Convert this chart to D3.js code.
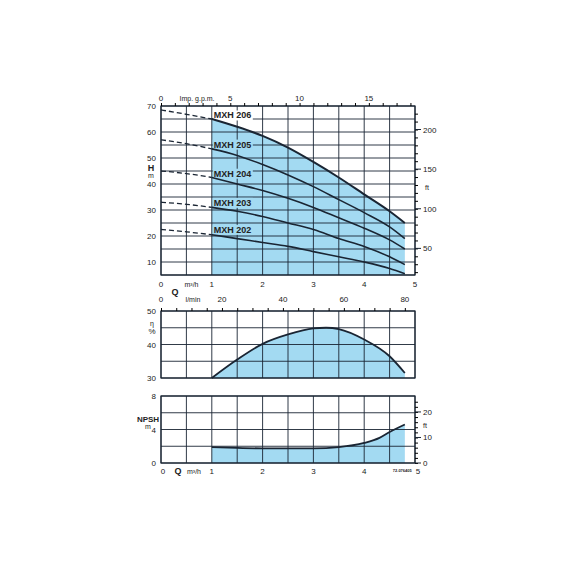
<!DOCTYPE html>
<html><head><meta charset="utf-8">
<script src="https://cdn.jsdelivr.net/npm/d3@7.9.0/dist/d3.min.js"></script>
<style>body{margin:0;background:#fff}text{font-family:Arial,"Liberation Sans",sans-serif}</style>
</head><body><svg id="c" width="570" height="570"></svg>
<script>
const qs = [1, 1.5, 2, 2.5, 3, 3.5, 4, 4.5, 4.8];
const dashQ = [0, 0.5, 1];
const models = ['MXH 206', 'MXH 205', 'MXH 204', 'MXH 203', 'MXH 202'];
const headDash = [[68.5, 66.8, 65], [57, 55.5, 53.5], [45, 44, 42.5], [33, 32.2, 31], [22.5, 21.6, 20.5]];
const head = [
  [65, 62, 58.5, 54, 48.5, 42.5, 36, 29.5, 25],
  [53.5, 51, 47.5, 43.5, 39, 34, 29, 23.5, 19],
  [42.5, 40, 37.5, 34.5, 31, 27, 23, 18.5, 15],
  [31, 29.5, 27.5, 25, 22.5, 19, 16, 12, 9],
  [20.5, 19, 17.5, 16, 14, 12, 10, 7.5, 5.5]
];
const labelQ = [1, 1, 1, 1, 1];
const labelH = [65.2, 54, 42.8, 31.6, 21.2];
const effQ = [1, 1.5, 2, 2.5, 3, 3.25, 3.5, 4, 4.5, 4.8];
const eff = [30, 35.5, 40.2, 43, 44.8, 45, 44.6, 41.5, 36.5, 31.5];
const npshQ = [1, 1.5, 2, 2.5, 3, 3.5, 4, 4.3, 4.5, 4.8];
const npsh = [1.9, 1.8, 1.75, 1.75, 1.75, 1.9, 2.4, 3, 3.7, 4.6];
const gpmTicks = [0, 5, 10, 15];
const lminTicks = [0, 20, 40, 60, 80];

const svg = d3.select('#c');
const FILL = '#a3daf2', INK = '#1a2533';
const x = d3.scaleLinear().domain([0, 5]).range([161, 415]);
const yH = d3.scaleLinear().domain([5, 70]).range([275, 106]);
const yE = d3.scaleLinear().domain([30, 50]).range([378, 311]);
const yN = d3.scaleLinear().domain([0, 8]).range([463, 396]);
const line = (ys) => d3.line().x(d => x(d[0])).y(d => ys(d[1])).curve(d3.curveMonotoneX);

function frame(y, yStep) {
  const g = svg.append('g');
  const [y0, y1] = y.domain();
  for (let q = 0; q <= 5.001; q += 0.5)
    g.append('line').attr('x1', x(q)).attr('x2', x(q)).attr('y1', y(y0)).attr('y2', y(y1))
      .attr('stroke', INK).attr('stroke-width', 0.9);
  for (let v = y0; v <= y1 + 0.001; v += yStep)
    g.append('line').attr('x1', x(0)).attr('x2', x(5)).attr('y1', y(v)).attr('y2', y(v))
      .attr('stroke', INK).attr('stroke-width', 0.9);
  g.append('rect').attr('x', x(0)).attr('y', y(y1)).attr('width', x(5) - x(0)).attr('height', y(y0) - y(y1))
    .attr('fill', 'none').attr('stroke', INK).attr('stroke-width', 1.2);
  return g;
}
function txt(xp, yp, s, opts = {}) {
  return svg.append('text').attr('x', xp).attr('y', yp).text(s)
    .attr('font-size', opts.size || 8).attr('font-weight', opts.bold ? 'bold' : null)
    .attr('text-anchor', opts.anchor || 'middle').attr('fill', '#222');
}

// ---- head chart
const areaH = d3.area().x(d => x(d[0])).y0(yH(5)).y1(d => yH(d[1])).curve(d3.curveMonotoneX);
svg.append('path').datum(qs.map((q, i) => [q, head[0][i]])).attr('d', areaH).attr('fill', FILL);
frame(yH, 5);
models.forEach((m, k) => {
  svg.append('rect').attr('x', x(labelQ[k]) + 1).attr('y', yH(labelH[k]) - 8).attr('width', 40).attr('height', 10).attr('fill', k === 0 ? '#fff' : FILL);
});
models.forEach((m, k) => {
  svg.append('path').datum(qs.map((q, i) => [q, head[k][i]])).attr('d', line(yH))
    .attr('fill', 'none').attr('stroke', INK).attr('stroke-width', k === 0 ? 2 : 1.6);
  svg.append('path').datum(dashQ.map((q, i) => [q, headDash[k][i]])).attr('d', line(yH))
    .attr('fill', 'none').attr('stroke', INK).attr('stroke-width', 1.3).attr('stroke-dasharray', '5,3');
  txt(x(labelQ[k]) + 2, yH(labelH[k]), m, { bold: true, size: 9, anchor: 'start' });
});
[10, 20, 30, 40, 50, 60, 70].forEach(v => txt(156, yH(v) + 3, v, { anchor: 'end' }));
txt(151, yH(46.3) + 3, 'H', { bold: true, size: 9 });
txt(151, yH(43.6) + 3, 'm', { size: 7 });
// right ft axis
const ft = d3.scaleLinear().domain([5 * 3.2808, 70 * 3.2808]).range([275, 106]);
svg.append('g').attr('transform', `translate(${x(5)},0)`)
  .call(d3.axisRight(ft).tickValues(d3.range(20, 230, 10)).tickSize(3).tickFormat(''))
  .call(g => g.select('.domain').remove());
[50, 100, 150, 200].forEach(v => {
  svg.append('line').attr('x1', x(5)).attr('x2', x(5) + 6).attr('y1', ft(v)).attr('y2', ft(v)).attr('stroke', INK);
  txt(x(5) + 8, ft(v) + 3, v, { anchor: 'start' });
});
txt(x(5) + 12, ft(127) + 3, 'ft', { size: 7 });
// top gpm axis
const gpm = d3.scaleLinear().domain([0, 5 * 3.666]).range([161, 415]);
svg.append('g').attr('transform', 'translate(0,106)')
  .call(d3.axisTop(gpm).tickValues(d3.range(0, 19)).tickSize(3).tickFormat(''))
  .call(g => g.select('.domain').remove());
gpmTicks.forEach(v => txt(gpm(v), 101, v));
txt(197, 101, 'Imp. g.p.m.', { size: 7 });
// m3/h and l/min labels
[0, 1, 2, 3, 4, 5].forEach(v => txt(x(v), 287, v));
txt(x(0.6), 287, 'm³/h', { size: 7 });
txt(175, 295, 'Q', { bold: true, size: 9 });
const lmin = d3.scaleLinear().domain([0, 5 * 16.667]).range([161, 415]);
lminTicks.forEach(v => txt(lmin(v), 302, v));
txt(lmin(10.5), 302, 'l/min', { size: 7 });

// ---- efficiency chart
const areaE = d3.area().x(d => x(d[0])).y0(yE(30)).y1(d => yE(d[1])).curve(d3.curveMonotoneX);
svg.append('path').datum(effQ.map((q, i) => [q, eff[i]])).attr('d', areaE).attr('fill', FILL);
frame(yE, 5);
svg.append('path').datum(effQ.map((q, i) => [q, eff[i]])).attr('d', line(yE))
  .attr('fill', 'none').attr('stroke', INK).attr('stroke-width', 1.8);
svg.append('g').attr('transform', `translate(0,${yE(50)})`)
  .call(d3.axisTop(lmin).tickValues(d3.range(0, 85, 5)).tickSize(3).tickFormat(''))
  .call(g => g.select('.domain').remove());
[30, 40, 50].forEach(v => txt(156, yE(v) + 3, v, { anchor: 'end' }));
txt(152, yE(46.5) + 3, 'η', { size: 7 });
txt(152, yE(44) + 3, '%', { size: 8 });

// ---- NPSH chart
const areaN = d3.area().x(d => x(d[0])).y0(yN(0)).y1(d => yN(d[1])).curve(d3.curveMonotoneX);
svg.append('path').datum(npshQ.map((q, i) => [q, npsh[i]])).attr('d', areaN).attr('fill', FILL);
frame(yN, 2);
svg.append('path').datum(npshQ.map((q, i) => [q, npsh[i]])).attr('d', line(yN))
  .attr('fill', 'none').attr('stroke', INK).attr('stroke-width', 1.8);
[0, 4, 8].forEach(v => txt(156, yN(v) + 3, v, { anchor: 'end' }));
txt(148, yN(5.2) + 3, 'NPSH', { bold: true, size: 8 });
txt(148, yN(4.4) + 3, 'm', { size: 7 });
const ftN = d3.scaleLinear().domain([0, 8 * 3.2808]).range([463, 396]);
svg.append('g').attr('transform', `translate(${x(5)},0)`)
  .call(d3.axisRight(ftN).tickValues(d3.range(0, 26, 2)).tickSize(3).tickFormat(''))
  .call(g => g.select('.domain').remove());
[0, 10, 20].forEach(v => {
  svg.append('line').attr('x1', x(5)).attr('x2', x(5) + 6).attr('y1', ftN(v)).attr('y2', ftN(v)).attr('stroke', INK);
  txt(x(5) + 8, ftN(v) + 3, v, { anchor: 'start' });
});
txt(x(5) + 10, ftN(15) + 3, 'ft', { size: 7 });
[1, 2, 3, 4, 5].forEach(v => txt(x(v) + (v === 5 ? 3 : 0), 474, v));
txt(x(0) + 2, 474, '0');
txt(178, 474, 'Q', { bold: true, size: 9 });
txt(194, 474, 'm³/h', { size: 7 });
txt(x(4.75), 472, '72.076405', { size: 4, bold: true });
</script></body></html>
